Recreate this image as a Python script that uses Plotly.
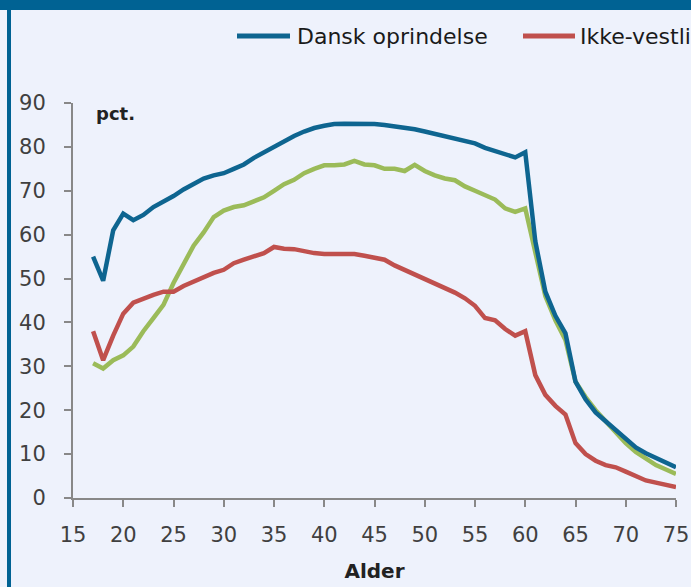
import plotly.graph_objects as go

ages = list(range(17, 76))

dansk = [55, 49.5, 61, 64.8, 63.3, 64.5, 66.3, 67.5, 68.8, 70.3,
         71.5, 72.8, 73.5, 74, 75, 76, 77.5, 78.8, 80, 81.3,
         82.5, 83.5, 84.3, 84.8, 85.2, 85.3, 85.3, 85.3, 85.2, 85,
         84.7, 84.4, 84, 83.5, 83, 82.5, 82, 81.5, 80.8, 79.8,
         79, 78.4, 77.6, 78.8, 58.5, 47, 41.5, 37.5, 26.5, 22.5,
         19.5, 17.5, 15.5, 13.5, 11.5, 10.2, 9.2, 8, 7]

vestlig = [30.7, 29.5, 31.4, 32.5, 34.5, 38, 41, 44, 49, 53,
           57.5, 60.5, 64, 65.5, 66.3, 66.7, 67.5, 68.5, 70, 71.5,
           72.5, 74, 75, 75.8, 75.8, 76, 76.8, 76, 75.8, 75,
           75, 74.5, 75.9, 74.5, 73.5, 72.8, 72.4, 71, 70, 69,
           68, 66, 65.2, 66, 56, 46, 40.5, 36, 26.5, 23,
           20, 17.5, 15, 12.5, 10.5, 9, 7.5, 6.5, 5.5]

ikke_vestlig = [38, 31.4, 37, 42, 44.5, 45.5, 46.3, 47, 47, 48.3,
                49.3, 50.3, 51.3, 52, 53.5, 54.3, 55, 55.8, 57.2, 56.8,
                56.7, 56.2, 55.8, 55.6, 55.6, 55.7, 55.6, 55.2, 54.8, 54.3,
                53, 52, 51, 50, 49, 47.8, 46.8, 45.5, 43.8, 41,
                40.5, 38.5, 37, 38, 28, 23.5, 21, 19, 12.5, 10,
                8.5, 7.5, 7, 6, 5, 4, 3.5, 3, 2.5]

x_ticks = list(range(15, 80, 5))
y_ticks = list(range(0, 100, 10))

names = ["Dansk oprindelse", "Ikke-vestlig oprindelse", "Vestlig oprindelse"]
colors = ["#0E6590", "#C0504D", "#9BBB59"]
series = [dansk, ikke_vestlig, vestlig]

W, H = 691, 587
L, R, T, B = 73, 15, 103, 89
pw = W - L - R
ph = H - T - B

def px(p):
    return (p - L) / pw

def py(p):
    return (H - B - p) / ph

fig = go.Figure()
# draw order: green, red, blue on top
for idx in [2, 1, 0]:
    fig.add_trace(go.Scatter(x=ages, y=series[idx], mode="lines", name=names[idx],
                             line=dict(color=colors[idx], width=4.5),
                             showlegend=False, cliponaxis=False))

bg = "#EEF2FC"
axis_col = "#888888"
tick_font = dict(family="DejaVu Sans", size=21, color="#404040")

fig.update_layout(
    width=W, height=H,
    margin=dict(l=L, r=R, t=T, b=B, pad=0, autoexpand=False),
    paper_bgcolor=bg, plot_bgcolor=bg,
    showlegend=False,
    xaxis=dict(range=[15, 75], tickvals=x_ticks, showgrid=False, zeroline=False,
               automargin=False,
               showline=True, linecolor=axis_col, linewidth=2,
               ticks="outside", ticklen=7, tickwidth=2, tickcolor=axis_col,
               tickfont=tick_font, ticklabelstandoff=10,
               title=dict(text="<b>Alder</b>", font=dict(family="DejaVu Sans", size=20, color="#222222"),
                          standoff=18)),
    yaxis=dict(range=[0, 90], tickvals=y_ticks, showgrid=False, zeroline=False,
               automargin=False,
               showline=True, linecolor=axis_col, linewidth=2,
               ticks="outside", ticklen=7, tickwidth=2, tickcolor=axis_col,
               tickfont=tick_font, ticklabelstandoff=14),
)

fig.add_annotation(text="<b>pct.</b>", xref="paper", yref="paper", x=px(94), y=py(113),
                   xanchor="left", yanchor="middle", showarrow=False,
                   font=dict(family="DejaVu Sans", size=18, color="#222222"))

# legend (cropped at right edge like the reference)
leg_y = py(36)
for i, (s0, s1, t0) in enumerate([(237, 290, 295), (523, 575, 578), (809, 861, 864)]):
    fig.add_shape(type="line", xref="paper", yref="paper", x0=px(s0), x1=px(s1),
                  y0=leg_y, y1=leg_y, line=dict(color=colors[i], width=5))
    fig.add_annotation(text=names[i], xref="paper", yref="paper", x=px(t0), y=leg_y,
                       xanchor="left", yanchor="middle", showarrow=False,
                       font=dict(family="DejaVu Sans", size=22, color="#1A1A1A"))

# frame
frame_col = "#006293"
fig.add_shape(type="rect", xref="paper", yref="paper", x0=px(-5), x1=px(W + 5),
              y0=py(10), y1=py(-5), fillcolor=frame_col, line=dict(width=0))
fig.add_shape(type="rect", xref="paper", yref="paper", x0=px(7), x1=px(11),
              y0=py(H + 5), y1=py(10), fillcolor=frame_col, line=dict(width=0))

fig.write_html("out.html", config={"displayModeBar": False, "responsive": False},
               post_script="document.body.style.margin='0';document.body.style.overflow='hidden';")
